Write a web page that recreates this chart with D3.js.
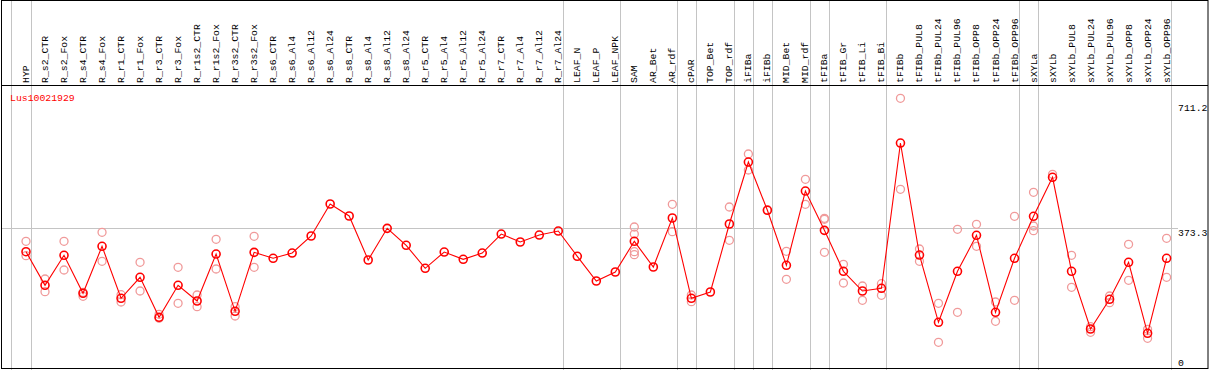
<!DOCTYPE html>
<html>
<head>
<meta charset="utf-8">
<script src="https://cdn.jsdelivr.net/npm/d3@7"></script>
<style>
  body { margin: 0; background: #fff; }
  text { font-family: "Liberation Mono", "DejaVu Sans Mono", monospace; font-size: 9.8px; }
</style>
</head>
<body>
<div id="chart"></div>
<script>
const geneId = "Lus10021929";

const categories = ["HYP", "R_s2_CTR", "R_s2_Fox", "R_s4_CTR", "R_s4_Fox", "R_r1_CTR", "R_r1_Fox",
  "R_r3_CTR", "R_r3_Fox", "R_r1s2_CTR", "R_r1s2_Fox", "R_r3s2_CTR", "R_r3s2_Fox", "R_s6_CTR",
  "R_s6_Al4", "R_s6_Al12", "R_s6_Al24", "R_s8_CTR", "R_s8_Al4", "R_s8_Al12", "R_s8_Al24",
  "R_r5_CTR", "R_r5_Al4", "R_r5_Al12", "R_r5_Al24", "R_r7_CTR", "R_r7_Al4", "R_r7_Al12",
  "R_r7_Al24", "LEAF_N", "LEAF_P", "LEAF_NPK", "SAM", "AR_Bet", "AR_rdf", "cPAR", "TOP_Bet",
  "TOP_rdf", "iFIBa", "iFIBb", "MID_Bet", "MID_rdf", "tFIBa", "tFIB_Gr", "tFIB_Li", "tFIB_Bi",
  "tFIBb", "tFIBb_PUL8", "tFIBb_PUL24", "tFIBb_PUL96", "tFIBb_OPP8", "tFIBb_OPP24",
  "tFIBb_OPP96", "sXYLa", "sXYLb", "sXYLb_PUL8", "sXYLb_PUL24", "sXYLb_PUL96", "sXYLb_OPP8",
  "sXYLb_OPP24", "sXYLb_OPP96"];

// mean expression per sample
const means = [313.0, 225.8, 303.7, 205.0, 327.0, 192.1, 246.6, 142.7, 225.8, 185.1, 307.0,
  158.3, 311.4, 295.9, 309.6, 353.8, 436.8, 405.7, 291.5, 373.7, 329.6, 269.9, 312.2, 293.3,
  309.6, 358.9, 338.2, 356.3, 366.7, 301.1, 237.0, 260.3, 340.0, 273.3, 400.5, 192.1, 208.4,
  384.9, 545.8, 420.5, 277.7, 470.5, 368.5, 262.1, 211.0, 218.0, 595.1, 304.4, 129.8, 262.1,
  355.6, 155.7, 295.9, 404.9, 506.1, 262.1, 112.4, 189.5, 285.5, 101.2, 295.9];

// individual replicates (where visible)
const replicates = [
  [340.0, 302.6], [242.2, 209.2], [340.0, 265.5], [207.6, 197.3], [363.4, 288.1],
  [201.4, 182.5], [285.5, 211.0], [150.5, 140.2], [272.5, 179.1], [200.6, 170.3],
  [345.2, 268.1], [170.3, 146.1], [353.0, 272.5], [], [], [], [], [], [], [], [], [], [], [],
  [], [], [], [], [], [], [], [], [377.1, 358.9, 313.0, 305.2], [], [436.0, 364.9],
  [200.6, 183.2], [], [429.0, 342.6], [566.6, 525.1], [422.0], [314.0, 241.4], [500.9, 436.0],
  [399.7, 397.1, 311.4], [280.3, 231.8], [224.0, 186.9], [230.0, 199.8], [711.2, 475.0],
  [320.0, 288.1], [179.1, 77.9], [371.1, 155.7], [384.1, 327.0], [182.5, 132.4],
  [404.9, 186.9], [467.2, 379.7, 367.5], [513.9], [303.7, 220.6], [118.4, 103.8],
  [198.0, 180.6], [332.2, 238.8], [111.6, 88.2], [347.8, 246.6]];

// vertical separators are drawn after these samples
const separators = ["HYP", "R_r7_Al24", "LEAF_NPK", "AR_rdf", "cPAR", "TOP_rdf", "iFIBa",
  "iFIBb", "MID_rdf", "tFIBa", "tFIB_Bi", "tFIBb_OPP96", "sXYLa", "sXYLb_OPP96"];

const tickValues = [711.2, 373.3, 0];
const tickLabels = ["711.2", "373.3", "0"];

const width = 1209, height = 370;
const svg = d3.select("#chart").append("svg")
  .attr("width", width)
  .attr("height", height);

const x = d3.scalePoint().domain(categories).range([26, 1166.6]);
const step = x.step();
const y = d3.scaleLinear().domain([0, 711.2]).range([372.3, 98.3]);

const grid = "#c4c4c4";

// vertical gridlines (full height)
const sepX = [x(categories[0]) - step + 4.5].concat(separators.map(s => x(s) + 4.5));
svg.selectAll(".vsep")
  .data(sepX)
  .enter().append("line")
  .attr("x1", d => Math.round(d) + 0.5)
  .attr("x2", d => Math.round(d) + 0.5)
  .attr("y1", 0)
  .attr("y2", height)
  .style("stroke", grid);

// horizontal reference line
svg.append("line")
  .attr("x1", 1).attr("x2", 1178)
  .attr("y1", Math.round(y(373.3)) + 0.5)
  .attr("y2", Math.round(y(373.3)) + 0.5)
  .style("stroke", grid);

// frame and header separator
svg.append("rect")
  .attr("x", 1.5).attr("y", 0.5)
  .attr("width", 1206.5).attr("height", 368)
  .style("fill", "none").style("stroke", "#000");
svg.append("line")
  .attr("x1", 1).attr("x2", 1208)
  .attr("y1", 85.5).attr("y2", 85.5)
  .style("stroke", "#000");

// sample labels
svg.selectAll(".lab")
  .data(categories)
  .enter().append("text")
  .attr("transform", d => `translate(${Math.round(x(d)) + 3},83) rotate(-90)`)
  .style("fill", "#000")
  .text(d => d);

// gene id
svg.append("text")
  .attr("x", 10).attr("y", 101)
  .style("fill", "#f00")
  .text(geneId);

// value labels on the right
svg.selectAll(".tick")
  .data(tickValues)
  .enter().append("text")
  .attr("x", 1178)
  .attr("y", (d, i) => y(d) + (i === 0 ? 12.5 : i === tickValues.length - 1 ? -6 : 7.5))
  .style("fill", "#000")
  .text((d, i) => tickLabels[i]);

// replicate points
const reps = [];
replicates.forEach((r, i) => r.forEach(v => reps.push({ c: categories[i], v })));
svg.selectAll(".rep")
  .data(reps)
  .enter().append("circle")
  .attr("cx", d => x(d.c))
  .attr("cy", d => y(d.v))
  .attr("r", 4)
  .style("fill", "none")
  .style("stroke", "#f09a9a")
  .style("stroke-width", 1.3);

// mean line
const line = d3.line()
  .x((d, i) => x(categories[i]))
  .y(d => y(d));
svg.append("path")
  .datum(means)
  .attr("d", line)
  .style("fill", "none")
  .style("stroke", "#f00")
  .style("stroke-width", 1.1);

// mean points
svg.selectAll(".mean")
  .data(means)
  .enter().append("circle")
  .attr("cx", (d, i) => x(categories[i]))
  .attr("cy", d => y(d))
  .attr("r", 4)
  .style("fill", "none")
  .style("stroke", "#f00")
  .style("stroke-width", 1.6);
</script>
</body>
</html>
